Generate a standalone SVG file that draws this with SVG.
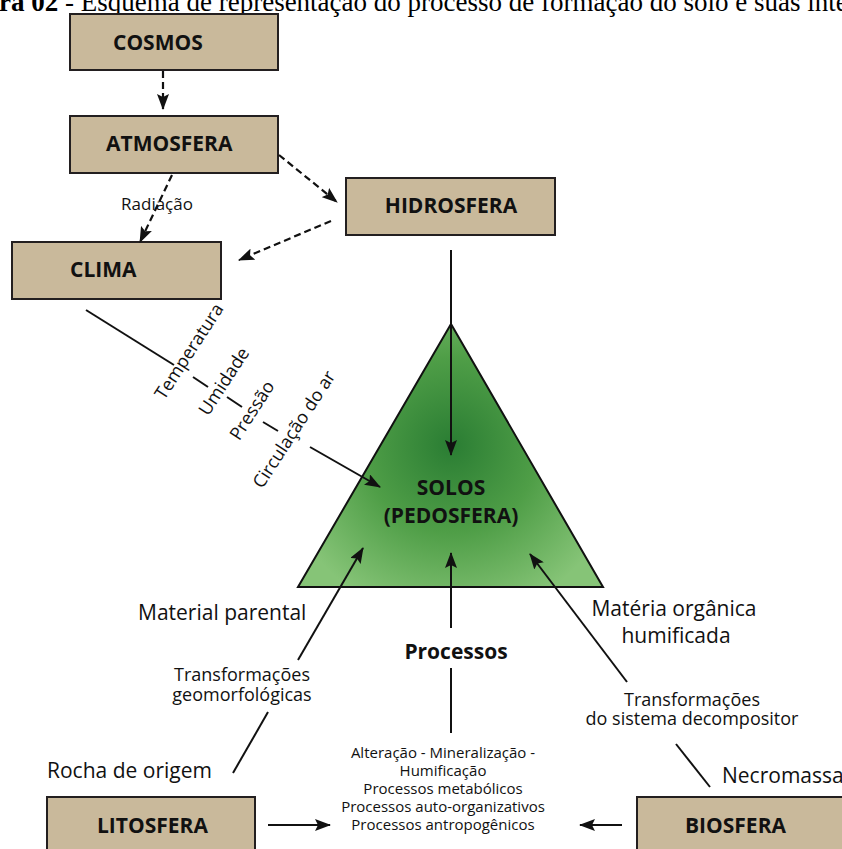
<svg xmlns="http://www.w3.org/2000/svg" width="842" height="849" viewBox="0 0 842 849">
<style>
.box{fill:#c9b99b;stroke:#231f20;stroke-width:2}
.lbl{font-family:"Open Sans","Noto Sans",sans-serif;font-weight:bold;font-size:21px;fill:#111}
.t{font-family:"Open Sans","Noto Sans",sans-serif;fill:#111}
.s21{font-size:21px}.s18{font-size:18px}.s17{font-size:17px}.s15{font-size:15px}
.cap{font-family:"Liberation Serif","Times New Roman",serif;font-size:27px;fill:#000}
.ln{fill:none;stroke:#111;stroke-width:2}
.dash{fill:none;stroke:#111;stroke-width:2.2;stroke-dasharray:7 4}
</style>
<defs>
<marker id="ah" viewBox="0 0 16 12" refX="15" refY="6" markerWidth="16" markerHeight="12" markerUnits="userSpaceOnUse" orient="auto">
<path d="M0,0 L16,6 L0,12 L3,6 Z" fill="#111"/>
</marker>
<radialGradient id="g" gradientUnits="userSpaceOnUse" cx="451" cy="445" r="175">
<stop offset="0" stop-color="#2a7d33"/>
<stop offset="0.5" stop-color="#4f9e47"/>
<stop offset="1" stop-color="#86c477"/>
</radialGradient>
</defs>
<rect width="842" height="849" fill="#fff"/>
<text class="cap" x="-1" y="11"><tspan font-weight="bold">ra 02</tspan> - Esquema de representação do processo de formação do solo e suas inte</text>

<g id="cosmos"><rect class="box" x="70" y="14" width="208" height="56"/><text class="lbl" x="113" y="50">COSMOS</text></g>
<g id="atmosfera"><rect class="box" x="70" y="116" width="208" height="57"/><text class="lbl" x="106" y="151">ATMOSFERA</text></g>
<g id="hidrosfera"><rect class="box" x="346" y="178" width="209" height="57"/><text class="lbl" x="451" y="213" text-anchor="middle">HIDROSFERA</text></g>
<g id="clima"><rect class="box" x="12" y="242" width="209" height="57"/><text class="lbl" x="70" y="277">CLIMA</text></g>
<g id="solos"><polygon points="451,324 298,587 603,587" fill="url(#g)" stroke="#111" stroke-width="2"/>
<text class="lbl" x="451" y="495" text-anchor="middle">SOLOS</text><text class="lbl" x="451" y="523" text-anchor="middle">(PEDOSFERA)</text></g>
<g id="litosfera"><rect class="box" x="47" y="797" width="208" height="58"/><text class="lbl" x="97" y="833">LITOSFERA</text></g>
<g id="biosfera"><rect class="box" x="637" y="797" width="212" height="58"/><text class="lbl" x="685" y="833">BIOSFERA</text></g>

<g id="connectors">
<line class="dash" x1="163" y1="71" x2="163" y2="109" marker-end="url(#ah)"/>
<line class="dash" x1="279" y1="155" x2="337" y2="202" marker-end="url(#ah)"/>
<line class="dash" x1="172" y1="175" x2="140" y2="242" marker-end="url(#ah)"/>
<line class="dash" x1="331" y1="221" x2="239" y2="260" marker-end="url(#ah)"/>
<line class="ln" x1="451" y1="250" x2="451" y2="455" marker-end="url(#ah)"/>
<line class="ln" x1="86" y1="310" x2="174" y2="365"/>
<line class="ln" x1="193" y1="377" x2="208" y2="387"/>
<line class="ln" x1="227" y1="397" x2="242" y2="407"/>
<line class="ln" x1="263" y1="422" x2="278" y2="431"/>
<line class="ln" x1="310" y1="447" x2="380" y2="487" marker-end="url(#ah)"/>
<line class="ln" x1="298" y1="660" x2="363" y2="548" marker-end="url(#ah)"/>
<line class="ln" x1="451" y1="628" x2="451" y2="553" marker-end="url(#ah)"/>
<line class="ln" x1="627" y1="682" x2="530" y2="554" marker-end="url(#ah)"/>
<line class="ln" x1="268" y1="712" x2="233" y2="773"/>
<line class="ln" x1="451" y1="668" x2="451" y2="733"/>
<line class="ln" x1="676" y1="744" x2="710" y2="787"/>
<line class="ln" x1="268" y1="825" x2="330" y2="825" marker-end="url(#ah)"/>
<line class="ln" x1="622" y1="825" x2="580" y2="825" marker-end="url(#ah)"/>
</g>

<g id="labels">
<text class="t s17" x="157" y="210" text-anchor="middle">Radiação</text>
<g transform="translate(190,352) rotate(-57)"><text class="t s18" x="0" y="5" text-anchor="middle">Temperatura</text></g>
<g transform="translate(225,382) rotate(-57)"><text class="t s18" x="0" y="5" text-anchor="middle">Umidade</text></g>
<g transform="translate(253,411) rotate(-57)"><text class="t s18" x="0" y="5" text-anchor="middle">Pressão</text></g>
<g transform="translate(295,430) rotate(-57)"><text class="t s18" x="0" y="5" text-anchor="middle">Circulação do ar</text></g>
<text class="t s21" x="138" y="620">Material parental</text>
<text class="t s18" x="242" y="681" text-anchor="middle">Transformações</text>
<text class="t s18" x="242" y="701" text-anchor="middle">geomorfológicas</text>
<text class="t s21" x="47" y="778">Rocha de origem</text>
<text class="lbl" x="456" y="659" text-anchor="middle">Processos</text>
<text class="t s21" x="674" y="616" text-anchor="middle">Matéria orgânica</text>
<text class="t s21" x="676" y="643" text-anchor="middle">humificada</text>
<text class="t s18" x="692" y="706" text-anchor="middle">Transformações</text>
<text class="t s18" x="692" y="725" text-anchor="middle">do sistema decompositor</text>
<text class="t s21" x="722" y="783">Necromassa</text>
<text class="t s15" x="443" y="758" text-anchor="middle">Alteração - Mineralização -</text>
<text class="t s15" x="443" y="776" text-anchor="middle">Humificação</text>
<text class="t s15" x="443" y="794" text-anchor="middle">Processos metabólicos</text>
<text class="t s15" x="443" y="812" text-anchor="middle">Processos auto-organizativos</text>
<text class="t s15" x="443" y="830" text-anchor="middle">Processos antropogênicos</text>
</g>
</svg>
